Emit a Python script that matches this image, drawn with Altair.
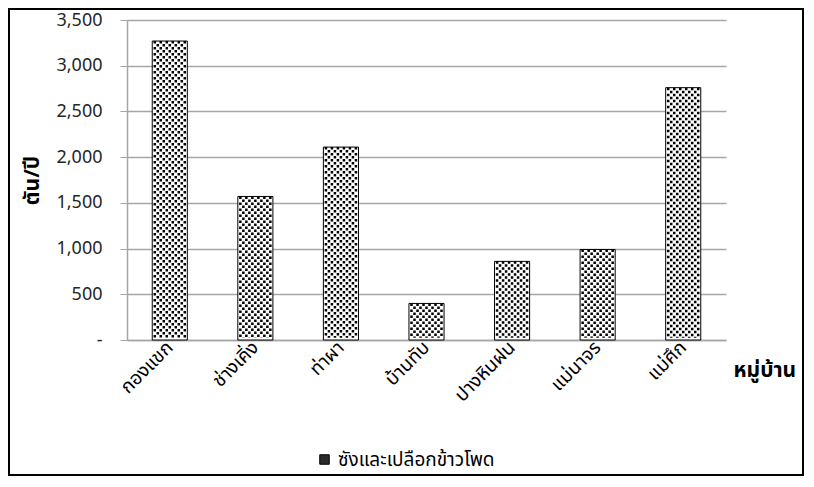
import altair as alt
import pandas as pd

categories = ["กองแขก", "ช่างเคิ่ง", "ท่าผา", "บ้านทับ", "ปางหินฝน", "แม่นาจร", "แม่ศึก"]
values = [3270, 1570, 2110, 400, 860, 990, 2760]
series_name = "ซังและเปลือกข้าวโพด"
y_ticks = [0, 500, 1000, 1500, 2000, 2500, 3000, 3500]

df = pd.DataFrame({"village": categories, "tons": values, "series": [series_name] * len(categories)})

FONT = "Tahoma, 'Noto Sans Thai', 'Noto Sans', sans-serif"
GRID = "#a6a6a6"

x_enc = alt.X(
    "village:N",
    sort=categories,
    scale=alt.Scale(paddingInner=0.59, paddingOuter=0.295),
    axis=alt.Axis(
        title="หมู่บ้าน",
        titleFont=FONT, titleFontSize=21, titleFontWeight="bold", titleColor="black",
        titleX=606, titleY=30, titleAlign="left", titleBaseline="middle", titleAngle=0,
        labelAngle=-45, labelAlign="right", labelBaseline="middle",
        labelFont=FONT, labelFontSize=19, labelColor="black", labelPadding=4,
        ticks=False, domainColor=GRID, domainWidth=1.5, grid=False,
    ),
)
y_enc = alt.Y(
    "tons:Q",
    scale=alt.Scale(domain=[0, 3500], nice=False),
    axis=alt.Axis(
        title="ตัน/ปี",
        titleFont=FONT, titleFontSize=21, titleFontWeight="bold", titleColor="black",
        titlePadding=13,
        values=y_ticks,
        labelExpr="datum.value == 0 ? '-' : format(datum.value, ',')",
        labelFont=FONT, labelFontSize=18, labelColor="#262626", labelPadding=18,
        tickSize=7, tickColor=GRID, domainColor=GRID, domainWidth=1.5,
        grid=True, gridColor=GRID, gridWidth=1.5,
    ),
)

bars = alt.Chart(df).mark_bar(stroke="black", strokeWidth=1, fill="white").encode(
    x=x_enc,
    y=y_enc,
)

legend_layer = alt.Chart(df).mark_bar(opacity=0).encode(
    x=alt.X("village:N", sort=categories),
    y=alt.Y("tons:Q"),
    fill=alt.Fill(
        "series:N",
        scale=alt.Scale(range=["#2a2a2a"]),
        legend=alt.Legend(
            title=None, orient="none", legendX=188, legendY=430,
            symbolType="square", symbolSize=90, symbolStrokeColor="black",
            symbolOpacity=1, symbolStrokeWidth=1,
            labelFont=FONT, labelFontSize=19, labelColor="black", labelOffset=4,
        ),
    ),
)

col_offsets = [-15, -12, -9, -6, -3, 0, 3, 6, 9, 12, 15]
dot_layers = []
for i, off in enumerate(col_offsets):
    dot_layers.append(
        alt.Chart(df).mark_rule(
            xOffset=off, strokeDash=[2.5, 3.5], strokeWidth=2.5,
            strokeDashOffset=(3 if i % 2 else 0), color="black",
        ).encode(
            x=alt.X("village:N", sort=categories),
            y=alt.Y("tons:Q"),
            y2=alt.datum(25),
        )
    )

frame = alt.Chart(pd.DataFrame({"k": [0]})).mark_rect(
    fill="transparent", stroke="black", strokeWidth=2
).encode(
    x=alt.value(-118), x2=alt.value(676), y=alt.value(-11), y2=alt.value(455)
)

chart = alt.layer(bars, legend_layer, *dot_layers, frame).properties(
    width=599, height=320,
    padding={"left": 119, "top": 12, "right": 78, "bottom": 136},
    autosize=alt.AutoSizeParams(type="none"),
    background="white",
).configure_view(stroke=None)

chart.save("out.html", embed_options={"renderer": "svg", "actions": False})
